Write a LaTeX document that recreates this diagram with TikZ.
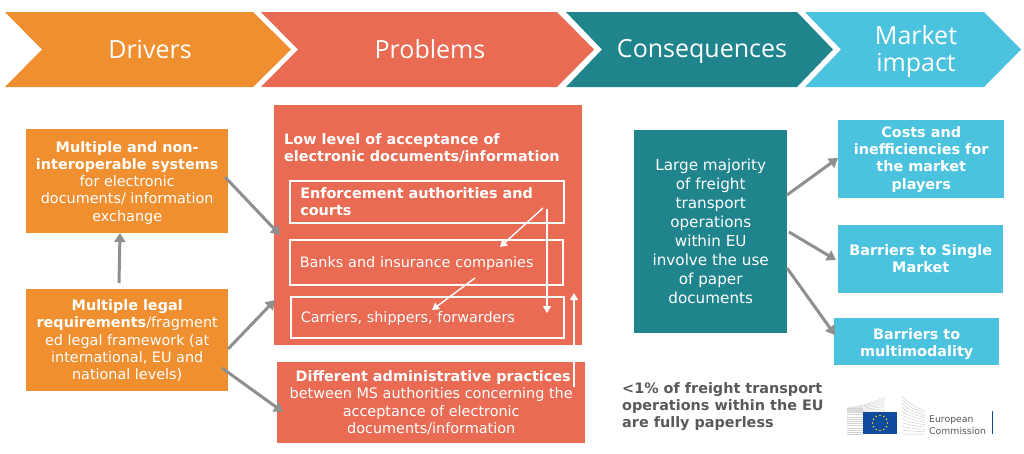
\documentclass[tikz,border=0pt]{standalone}
\usepackage{fontspec}
\setmainfont{DejaVu Sans}
\newfontfamily\headfont{Open Sans}
\usetikzlibrary{arrows.meta}
\definecolor{cor}{HTML}{F08F2F}
\definecolor{red1}{HTML}{E96B54}
\definecolor{teal1}{HTML}{1F848B}
\definecolor{sky}{HTML}{4BC3DF}
\definecolor{gr}{HTML}{8F8F8F}
\definecolor{txt}{HTML}{595959}
\definecolor{eublue}{HTML}{0F4C9F}
\definecolor{eustar}{HTML}{F2D21E}
\newcommand{\bodysize}{\fontsize{14.4}{17.3}\selectfont}
\newcommand{\dn}[2]{\raisebox{-#1}[\height][\depth]{\begin{tabular}{@{}c@{}}#2\end{tabular}}}
\tikzset{
  chev/.style={fill=#1},
  headtext/.style={text=white,align=center,font=\headfont\fontsize{25}{30}\selectfont,inner sep=0pt},
  bx/.style={fill=#1,text=white,align=center,font=\bodysize,inner sep=0pt,anchor=north west},
  inner/.style={draw=white,line width=1.5pt,text=white,align=left,font=\bodysize,inner sep=0pt,anchor=north west},
  grayarrow/.style={draw=gr,line width=3pt,-{Triangle[length=9pt,width=11pt]}},
  whitearrow/.style={draw=white,line width=1.4pt,-{Triangle[length=7pt,width=8pt]}},
  logoline/.style={draw=gray!35,line width=.5pt},
}
\begin{document}
\begin{tikzpicture}[x=1pt,y=-1pt]
\useasboundingbox (0,0) rectangle (1024,453);
% chevrons
\fill[chev=cor] (5,12)--(253,12)--(291,49.5)--(253,87)--(5,87)--(42,49.5)--cycle;
\fill[chev=red1] (261,12)--(557,12)--(594,49.5)--(557,87)--(261,87)--(298,49.5)--cycle;
\fill[chev=teal1] (566,12)--(797,12)--(833,49.5)--(797,87)--(566,87)--(602,49.5)--cycle;
\fill[chev=sky] (805,12)--(984,12)--(1021,49.5)--(984,87)--(805,87)--(841,49.5)--cycle;
\node[headtext] (hd) at (150,49) {Drivers};
\node[headtext] (hp) at (430,49) {Problems};
\node[headtext] (hc) at (702,51) {Consequences};
\node[headtext] (hm) at (916,52) {Market\\[-3pt]impact};
% drivers
\node[bx=cor,minimum width=202pt,minimum height=104pt] (d1) at (26,129) {\dn{2pt}{\textbf{Multiple and non-}\\\textbf{interoperable systems}\\for electronic\\documents/ information\\exchange}};
\node[bx=cor,minimum width=202pt,minimum height=102pt] (d2) at (26,289) {\dn{1.5pt}{\textbf{Multiple legal}\\\textbf{requirements}/fragment\\ed legal framework (at\\international, EU and\\national levels)}};
% problems
\node[bx=red1,minimum width=308pt,minimum height=240pt] (p) at (274,105) {};
\node[anchor=north west,text=white,align=left,font=\bodysize\bfseries,inner sep=0pt] (pt) at (284,133) {Low level of acceptance of\\electronic documents/information};
\node[inner,minimum width=274pt,minimum height=42pt,text width=263pt] (p1) at (289,180) {\hspace*{5pt}\textbf{Enforcement authorities and}\\\hspace*{5pt}\textbf{courts}};
\node[inner,minimum width=273pt,minimum height=45pt,text width=263pt] (p2) at (289,239) {\hspace*{5pt}\raisebox{-1pt}[\height][\depth]{Banks and insurance companies}};
\node[inner,minimum width=273pt,minimum height=41pt,text width=263pt] (p3) at (290,296) {\hspace*{5pt}\raisebox{-1pt}[\height][\depth]{Carriers, shippers, forwarders}};
\node[bx=red1,minimum width=308pt,minimum height=81pt] (p4) at (277,362) {\hspace*{4pt}\textbf{Different administrative practices}\\between MS authorities concerning the\\acceptance of electronic\\documents/information};
% consequences
\node[bx=teal1,minimum width=153pt,minimum height=203pt,font=\fontsize{15.2}{19}\selectfont] (c) at (634,130) {Large majority\\of freight\\transport\\operations\\within EU\\involve the use\\of paper\\documents};
% market
\node[bx=sky,minimum width=166pt,minimum height=78pt] (m1) at (838,120) {\dn{.5pt}{\textbf{Costs and}\\\textbf{inefficiencies for}\\\textbf{the market}\\\textbf{players}}};
\node[bx=sky,minimum width=165pt,minimum height=68pt] (m2) at (838,225) {\dn{1.5pt}{\textbf{Barriers to Single}\\\textbf{Market}}};
\node[bx=sky,minimum width=165pt,minimum height=47pt] (m3) at (834,318) {\dn{2.5pt}{\textbf{Barriers to}\\\textbf{multimodality}}};
% note
\node[anchor=north west,text=txt,align=left,font=\bodysize\bfseries,inner sep=0pt] (note) at (622,382) {<1\% of freight transport\\operations within the EU\\are fully paperless};
% gray arrows
\coordinate (a1s) at (225,177); \coordinate (a1e) at (280,235);
\coordinate (a2s) at (228,349); \coordinate (a2e) at (275,300);
\coordinate (a3s) at (222,368); \coordinate (a3e) at (283,412);
\coordinate (a4s) at (119,283); \coordinate (a4e) at (120,233);
\coordinate (a5s) at (787,195); \coordinate (a5e) at (838,158);
\coordinate (a6s) at (789,232); \coordinate (a6e) at (836,260);
\coordinate (a7s) at (787,268); \coordinate (a7e) at (835,335);
\foreach \n in {1,...,7} \draw[grayarrow] (a\n s) -- (a\n e);
% white arrows
\coordinate (w1s) at (543,208); \coordinate (w1e) at (500,247);
\coordinate (w2s) at (475,278); \coordinate (w2e) at (432,310);
\coordinate (w3s) at (547,209); \coordinate (w3e) at (547,313);
\coordinate (w4s) at (574,387); \coordinate (w4e) at (574,293);
\foreach \n in {1,...,4} \draw[whitearrow] (w\n s) -- (w\n e);
% logo
\foreach \k in {0,...,12} {
  \draw[logoline] (847,{408+\k*2.2}) -- (863,{408+\k*2.2});
}
\foreach \k in {0,...,6} {
  \draw[logoline] (847,{408+\k*0.7}) .. controls (862,{406+\k*0.9}) and (876,{402+\k*1.4}) .. (885,{397+\k*2.4});
}
\foreach \k in {0,...,10} {
  \draw[logoline] (902,{396+\k*3.8}) .. controls (908,{404+\k*3}) and (918,{408+\k*2.6}) .. (925,{411+\k*2.3});
}
\fill[eublue] (863,412) rectangle (897,434);
\foreach \a in {0,30,...,330} \fill[eustar] ({880+7.5*cos(\a)},{423+7.5*sin(\a)}) circle (.8pt);
\node[anchor=west,text=txt,font=\fontsize{9.3}{11.5}\selectfont,align=left,inner sep=0pt] (eu) at (929,425) {European\\Commission};
\fill[eublue] (991.5,411) rectangle (993,434);
\end{tikzpicture}
\end{document}
